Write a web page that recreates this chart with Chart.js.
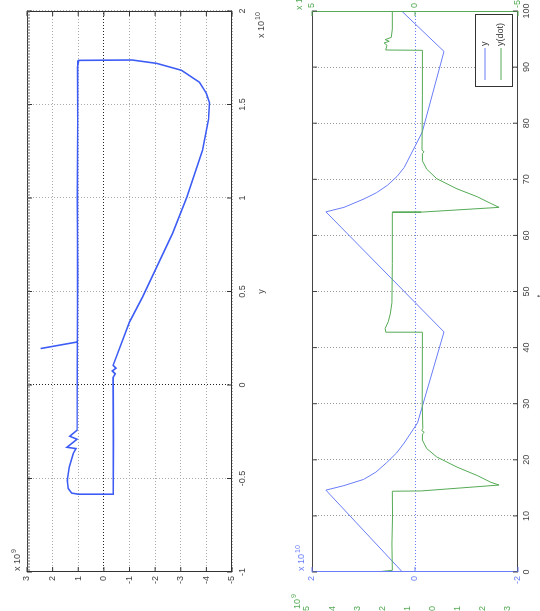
<!DOCTYPE html>
<html>
<head>
<meta charset="utf-8">
<script src="https://cdn.jsdelivr.net/npm/chart.js@4.4.0/dist/chart.umd.min.js"></script>
<style>
  html, body { margin: 0; padding: 0; background: #fff; overflow: hidden; }
  body { width: 540px; height: 611px; position: relative; }
  /* the figure is drawn upright and turned a quarter turn, like the picture */
  #fig { position: absolute; left: 0; top: 0; width: 611px; height: 540px;
         transform-origin: 0 0; transform: translate(0, 611px) rotate(-90deg); }
  #fig canvas { display: block; }
</style>
</head>
<body>
<div id="fig">
  <canvas id="phase" width="611" height="270"></canvas>
  <canvas id="series" width="611" height="270"></canvas>
</div>
<script>
// phase plot: y (x 10^10) against y(dot) (x 10^9)
const phaseY = [0.195, 0.23, 0.6, 1.0, 1.4, 1.70, 1.736, 1.738, 1.72, 1.683, 1.619, 1.56, 1.51, 1.42,
  1.255, 1.003, 0.81, 0.47, 0.337, 0.105, 0.09, 0.075, 0.06, 0.04, -0.3, -0.584, -0.584, -0.578,
  -0.554, -0.51, -0.439, -0.367, -0.34, -0.333, -0.29, -0.274, -0.242, 0.4, 1.1, 1.736];
const phaseYdot = [2.47, 1.04, 1.02, 1.04, 1.02, 1.03, 0.98, -1.1, -2.06, -3.03, -3.73, -4.0, -4.12, -4.08,
  -3.85, -3.23, -2.68, -1.51, -1.0, -0.36, -0.47, -0.33, -0.44, -0.36, -0.37, -0.36, 1.0, 1.26,
  1.39, 1.43, 1.35, 1.2, 1.09, 1.44, 1.05, 1.33, 1.05, 1.03, 1.03, 1.02];
const phaseXTicks = [-1, -0.5, 0, 0.5, 1, 1.5, 2];
const phaseYTicks = [-5, -4, -3, -2, -1, 0, 1, 2, 3];

// time series: y (x 10^10) and y(dot) (x 10^9)
const yTime = [0, 14.6, 15.4, 16.5, 17.8, 19.5, 21.2, 23.0, 26.6, 42.8, 64.2, 65.0, 66.5, 67.6,
  68.9, 70.5, 72.1, 78.4, 92.8, 100];
const yValues = [0.245, 1.73, 1.38, 1.0, 0.76, 0.55, 0.36, 0.21, -0.05, -0.563, 1.73, 1.38, 0.99, 0.75,
  0.54, 0.35, 0.21, -0.14, -0.563, 0.26];
const ydotTime = [0, 0.3, 5, 10, 14.4, 14.45, 15.5, 16.0, 17.2, 18.7, 20.5, 22.0, 23.5, 24.6, 24.9,
  25.2, 25.6, 30, 42.7, 42.75, 43.4, 44.6, 46.0, 48.0, 55, 64.1, 64.15, 65.0, 65.7, 66.9, 68.3,
  70.1, 71.8, 73.3, 74.6, 74.9, 75.2, 85, 93.0, 93.05, 93.9, 94.3, 94.6, 94.9, 95.3, 96.8, 100];
const ydotValues = [1.9, 1.1, 1.12, 1.09, 1.1, -0.3, -4.08, -3.68, -3.02, -2.04, -1.06, -0.57, -0.36, -0.36, -0.45,
  -0.33, -0.38, -0.35, -0.36, 1.42, 1.45, 1.3, 1.2, 1.12, 1.1, 1.1, -0.3, -4.08, -3.68, -3.02, -2.04,
  -1.06, -0.57, -0.36, -0.36, -0.44, -0.34, -0.36, -0.36, 1.42, 1.36, 1.5, 1.25, 1.45, 1.15, 1.1, 1.1];
const timeTicks = [0, 10, 20, 30, 40, 50, 60, 70, 80, 90, 100];
const yTicks = [-2, 0, 2];
const ydotTicks = [-5, 0, 5];
// green labels of a clipped axis at the figure edge
const edgeTicks = ['5', '4', '3', '2', '1', '0', '-1', '-2', '-3'];

const FONT = 'Liberation Sans, Arial, sans-serif';
const BLUE = 'rgb(105,125,248)';
const GREEN = 'rgb(85,170,85)';
Chart.defaults.font.family = FONT;
Chart.defaults.font.size = 9;
Chart.defaults.color = '#444';

function setTicks(list) {
  return (scale) => { scale.ticks = list.map(v => ({ value: v })); };
}

function expLabel(ctx, x, y, base, exp, color) {
  ctx.save();
  ctx.fillStyle = color;
  ctx.textBaseline = 'middle';
  ctx.textAlign = 'left';
  ctx.font = '9px ' + FONT;
  ctx.fillText(base, x, y);
  const w = ctx.measureText(base).width;
  ctx.font = '7px ' + FONT;
  ctx.fillText(exp, x + w + 1, y - 4);
  ctx.restore();
}

// frame with inward tick marks, MATLAB style
function frame(colors) {
  return {
    id: 'frame',
    afterDatasetsDraw(chart) {
      const { ctx, chartArea: a, scales } = chart;
      ctx.save();
      ctx.lineWidth = 1;
      const side = (c, x1, y1, x2, y2) => {
        ctx.strokeStyle = c; ctx.beginPath(); ctx.moveTo(x1, y1); ctx.lineTo(x2, y2); ctx.stroke();
      };
      side(colors.top, a.left, a.top + 0.5, a.right, a.top + 0.5);
      side(colors.bottom, a.left, a.bottom - 0.5, a.right, a.bottom - 0.5);
      side(colors.left, a.left + 0.5, a.top, a.left + 0.5, a.bottom);
      side(colors.right, a.right - 0.5, a.top, a.right - 0.5, a.bottom);
      Object.values(scales).forEach(s => {
        s.ticks.forEach(t => {
          const p = s.getPixelForValue(t.value);
          if (s.isHorizontal()) {
            side(colors.bottom, p, a.bottom, p, a.bottom - 5);
            side(colors.top, p, a.top, p, a.top + 5);
          } else if (s.position === 'right') {
            side(colors.right, a.right, p, a.right - 5, p);
          } else {
            side(colors.left, a.left, p, a.left + 5, p);
            if (!chart.scales.y1) side(colors.right, a.right, p, a.right - 5, p);
          }
        });
      });
      ctx.restore();
    }
  };
}

const phaseText = {
  id: 'phaseText',
  afterDraw(chart) {
    const { ctx, chartArea: a } = chart;
    ctx.save();
    ctx.strokeStyle = '#666';
    ctx.lineWidth = 1;
    for (let x = a.left + 2; x < a.right; x += 3) {
      ctx.beginPath(); ctx.moveTo(x, a.top); ctx.lineTo(x, a.top + 3); ctx.stroke();
    }
    ctx.restore();
    expLabel(ctx, 40, 18, 'x 10', '9', '#444');
    expLabel(ctx, 573, 262, 'x 10', '10', '#444');
  }
};

new Chart(document.getElementById('phase'), {
  type: 'scatter',
  data: {
    datasets: [{
      label: 'phase',
      data: phaseY.map((v, i) => ({ x: v, y: phaseYdot[i] })),
      showLine: true,
      borderColor: 'rgb(60,92,245)',
      borderWidth: 1.6,
      pointRadius: 0,
      tension: 0
    }]
  },
  options: {
    responsive: false,
    animation: false,
    layout: { padding: { left: 0, right: 11, top: 27, bottom: 0 } },
    plugins: { legend: { display: false }, tooltip: { enabled: false } },
    scales: {
      x: {
        type: 'linear', min: -1, max: 2,
        afterBuildTicks: setTicks(phaseXTicks),
        afterFit: s => { s.height = 38; },
        grid: { color: c => (c.tick && c.tick.value === 0 ? '#222' : '#aaa'), drawTicks: false },
        border: { display: false, dash: [1, 2] },
        ticks: { padding: 5, maxRotation: 0, autoSkip: false, callback: v => String(v) },
        title: { display: true, text: 'y', padding: { top: 0, bottom: 3 } }
      },
      y: {
        type: 'linear', min: -5, max: 3,
        afterBuildTicks: setTicks(phaseYTicks),
        afterFit: s => { s.width = 39; },
        grid: { color: c => (c.tick && c.tick.value === 0 ? '#222' : '#aaa'), drawTicks: false },
        border: { display: false, dash: [1, 2] },
        ticks: { padding: 4, autoSkip: false, callback: v => String(v) }
      }
    }
  },
  plugins: [frame({ top: '#333', bottom: '#333', left: '#333', right: '#333' }), phaseText]
});

const seriesText = {
  id: 'seriesText',
  afterDraw(chart) {
    const { ctx, chartArea: a } = chart;
    // legend box
    const bx = 524, by = 205, bw = 72, bh = 37;
    ctx.save();
    ctx.fillStyle = '#fff';
    ctx.fillRect(bx, by, bw, bh);
    ctx.strokeStyle = '#333';
    ctx.lineWidth = 1;
    ctx.strokeRect(bx + 0.5, by + 0.5, bw, bh);
    chart.data.datasets.forEach((ds, i) => {
      const yy = by + 10 + i * 16;
      ctx.strokeStyle = ds.borderColor;
      ctx.beginPath(); ctx.moveTo(531, yy); ctx.lineTo(563, yy); ctx.stroke();
      ctx.fillStyle = '#333';
      ctx.font = '9px ' + FONT;
      ctx.textBaseline = 'middle';
      ctx.fillText(ds.label, 565, yy);
    });
    // clipped green axis at the left edge
    ctx.fillStyle = GREEN;
    ctx.textAlign = 'right';
    edgeTicks.forEach((t, i) => ctx.fillText(t, 5, 37 + i * 25.1));
    ctx.textAlign = 'center';
    ctx.fillStyle = '#444';
    ctx.textBaseline = 'top';
    ctx.fillText('t', 315, 266);
    ctx.restore();
    expLabel(ctx, -5, 28, 'x 10', '9', GREEN);
    expLabel(ctx, 40, 32, 'x 10', '10', BLUE);
    expLabel(ctx, 601, 30, 'x 10', '9', GREEN);
  }
};

new Chart(document.getElementById('series'), {
  type: 'scatter',
  data: {
    datasets: [{
      label: 'y',
      data: yTime.map((t, i) => ({ x: t, y: yValues[i] })),
      yAxisID: 'y',
      showLine: true,
      borderColor: BLUE,
      borderWidth: 1,
      pointRadius: 0,
      order: 1
    }, {
      label: 'y(dot)',
      data: ydotTime.map((t, i) => ({ x: t, y: ydotValues[i] })),
      yAxisID: 'y1',
      showLine: true,
      borderColor: GREEN,
      borderWidth: 1,
      pointRadius: 0,
      order: 0
    }]
  },
  options: {
    responsive: false,
    animation: false,
    layout: { padding: { left: 0, right: 0, top: 42, bottom: 0 } },
    plugins: { legend: { display: false }, tooltip: { enabled: false } },
    scales: {
      x: {
        type: 'linear', min: 0, max: 100,
        afterBuildTicks: setTicks(timeTicks),
        afterFit: s => { s.height = 22; },
        grid: { color: c => (c.tick && (c.tick.value === 0 || c.tick.value === 100) ? 'rgba(0,0,0,0)' : '#999'), drawTicks: false },
        border: { display: false, dash: [1, 2] },
        ticks: { padding: 3, maxRotation: 0, autoSkip: false }
      },
      y: {
        type: 'linear', position: 'left', min: -2, max: 2,
        afterBuildTicks: setTicks(yTicks),
        afterFit: s => { s.width = 39; },
        grid: { color: c => (c.tick && c.tick.value === 0 ? BLUE : 'rgba(0,0,0,0)'), drawTicks: false },
        border: { display: false, dash: [1, 2] },
        ticks: { padding: 4, color: BLUE, autoSkip: false }
      },
      y1: {
        type: 'linear', position: 'right', min: -5, max: 5,
        afterBuildTicks: setTicks(ydotTicks),
        afterFit: s => { s.width = 11; },
        grid: { display: false, drawTicks: false },
        border: { display: false },
        ticks: { padding: 3, color: GREEN, autoSkip: false }
      }
    }
  },
  plugins: [frame({ top: '#444', bottom: '#444', left: BLUE, right: GREEN }), seriesText]
});
</script>
</body>
</html>
